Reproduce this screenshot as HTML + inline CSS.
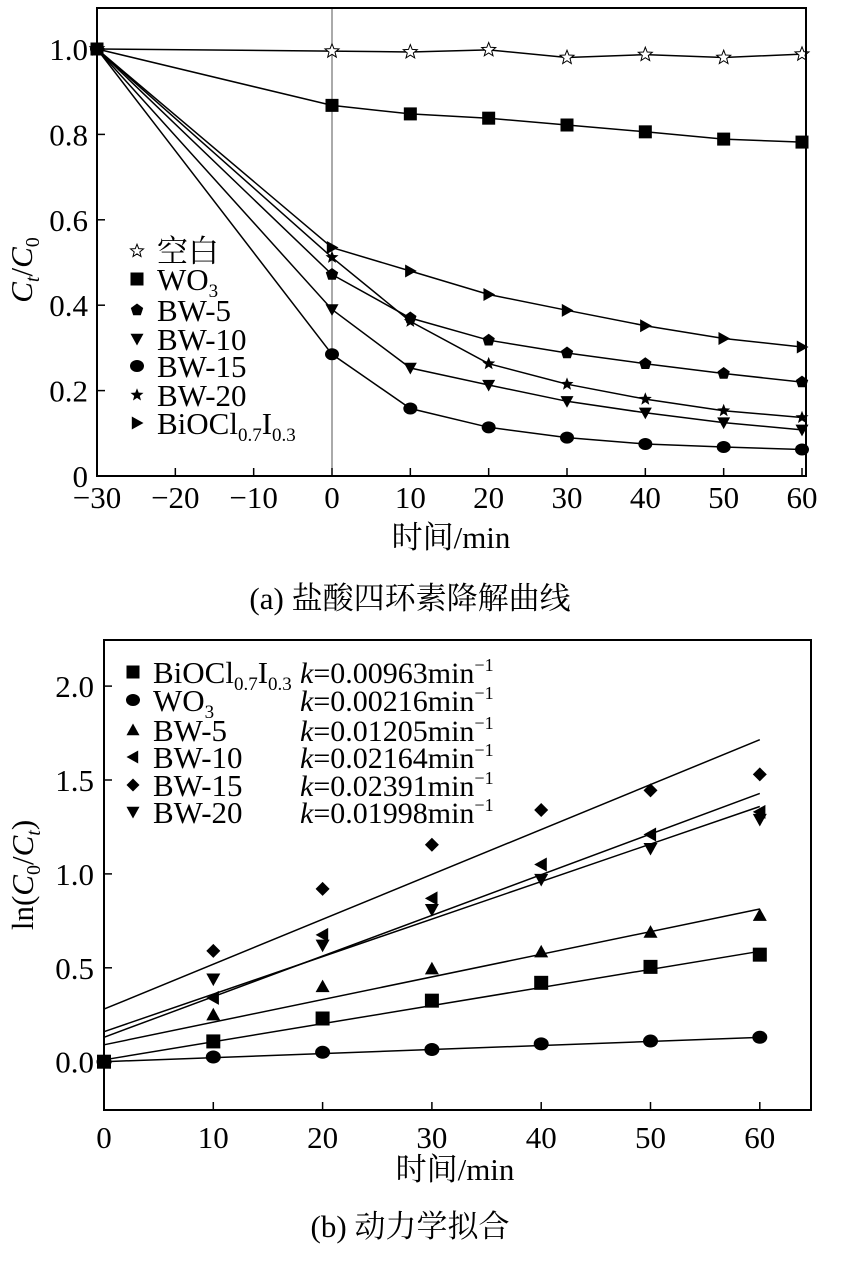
<!DOCTYPE html>
<html><head><meta charset="utf-8">
<style>
body{margin:0;background:#fff;}
svg{display:block;font-family:"Liberation Serif","Noto Serif CJK SC","Noto Sans CJK SC",serif;}
</style></head>
<body>
<svg id="s" width="843" height="1265" viewBox="0 0 843 1265"></svg>
<script>
// ---- Chart (a) data ----
const aTimes = [-30, 0, 10, 20, 30, 40, 50, 60];
const aBlank = [1.0, 0.995, 0.993, 0.998, 0.98, 0.987, 0.98, 0.988];
const aWO3   = [1.0, 0.868, 0.848, 0.838, 0.822, 0.806, 0.789, 0.782];
const aBW5   = [1.0, 0.472, 0.37, 0.318, 0.288, 0.263, 0.240, 0.220];
const aBW10  = [1.0, 0.39, 0.253, 0.213, 0.175, 0.148, 0.125, 0.108];
const aBW15  = [1.0, 0.285, 0.158, 0.114, 0.090, 0.075, 0.068, 0.062];
const aBW20  = [1.0, 0.512, 0.362, 0.263, 0.215, 0.180, 0.153, 0.137];
const aBiOCl = [1.0, 0.535, 0.48, 0.425, 0.388, 0.352, 0.322, 0.302];
const aXTicks = [-30, -20, -10, 0, 10, 20, 30, 40, 50, 60];
const aYTicks = [0, 0.2, 0.4, 0.6, 0.8, 1.0];
const aYLabels = ["0", "0.2", "0.4", "0.6", "0.8", "1.0"];
// ---- Chart (b) data ----
const bTimes = [0, 10, 20, 30, 40, 50, 60];
const bBiOCl = [0, 0.108, 0.23, 0.325, 0.42, 0.505, 0.57];
const bWO3   = [0, 0.025, 0.05, 0.065, 0.095, 0.11, 0.13];
const bBW5   = [0, 0.25, 0.40, 0.495, 0.585, 0.69, 0.78];
const bBW10  = [0, 0.34, 0.675, 0.87, 1.05, 1.21, 1.33];
const bBW15  = [0, 0.59, 0.92, 1.155, 1.34, 1.445, 1.53];
const bBW20  = [0, 0.44, 0.62, 0.81, 0.97, 1.135, 1.29];
const bSlopes = [0.00963, 0.00216, 0.01205, 0.02164, 0.02391, 0.01998];
const bIntercepts = [0.01, 0.0, 0.09, 0.13, 0.28, 0.16];
const bKLabels = ["0.00963", "0.00216", "0.01205", "0.02164", "0.02391", "0.01998"];
const bXTicks = [0, 10, 20, 30, 40, 50, 60];
const bYTicks = [0, 0.5, 1.0, 1.5, 2.0];
const bYLabels = ["0.0", "0.5", "1.0", "1.5", "2.0"];

const FS = 31;
const NS = "http://www.w3.org/2000/svg";
const svg = document.getElementById('s');
function mk(tag, attrs, parent, text){
  const e = document.createElementNS(NS, tag);
  for (const k in attrs) e.setAttribute(k, attrs[k]);
  if (text !== undefined) e.textContent = text;
  (parent || svg).appendChild(e);
  return e;
}
function marker(type, x, y, g, s){
  s = s || 7;
  let e;
  if (type === 'square') e = mk('rect', {x:x-s, y:y-s, width:2*s, height:2*s, fill:'#000'}, g);
  else if (type === 'circle') e = mk('ellipse', {cx:x, cy:y, rx:s+0.5, ry:s-0.5, fill:'#000'}, g);
  else if (type === 'pent' || type === 'star' || type === 'ostar') {
    let pts = [];
    const n = type === 'pent' ? 5 : 10;
    for (let i = 0; i < n; i++){
      const a = -Math.PI/2 + i*2*Math.PI/n;
      const r = (type === 'pent') ? s : (i%2 ? s*0.45 : s*1.05);
      pts.push((x + r*Math.cos(a)).toFixed(1) + ',' + (y + r*Math.sin(a)).toFixed(1));
    }
    e = mk('polygon', {points:pts.join(' '), fill: type === 'ostar' ? '#fff' : '#000', stroke:'#000', 'stroke-width': type === 'ostar' ? 1 : 0}, g);
  }
  else if (type === 'down') e = mk('polygon', {points:`${x-s},${y-s*0.8} ${x+s},${y-s*0.8} ${x},${y+s}`, fill:'#000'}, g);
  else if (type === 'up') e = mk('polygon', {points:`${x-s},${y+s*0.8} ${x+s},${y+s*0.8} ${x},${y-s}`, fill:'#000'}, g);
  else if (type === 'right') e = mk('polygon', {points:`${x-s*0.8},${y-s} ${x-s*0.8},${y+s} ${x+s},${y}`, fill:'#000'}, g);
  else if (type === 'left') e = mk('polygon', {points:`${x+s*0.8},${y-s} ${x+s*0.8},${y+s} ${x-s},${y}`, fill:'#000'}, g);
  else if (type === 'diamond') e = mk('polygon', {points:`${x},${y-s} ${x+s},${y} ${x},${y+s} ${x-s},${y}`, fill:'#000'}, g);
  return e;
}

// ===== Chart (a) =====
const aL=97, aR=806, aT=8, aB=476;
const ax = v => aL + (v + 30) * (aR - 4 - aL) / 90;
const ay = v => 476 - v * 427;
const ga = mk('g', {});


mk('line', {x1:ax(0), y1:aT, x2:ax(0), y2:aB, stroke:'#555', 'stroke-width':1}, ga);
aXTicks.forEach(t => {
  mk('line', {x1:ax(t), y1:aB, x2:ax(t), y2:aB-8, stroke:'#000', 'stroke-width':1.5}, ga);
  const lbl = mk('text', {x:ax(t), y:508, 'font-size':FS, 'text-anchor':'middle'}, ga, t < 0 ? '\u2212' + (-t) : String(t));
  
  
});
aYTicks.forEach((t, i) => {
  mk('line', {x1:aL, y1:ay(t), x2:aL+8, y2:ay(t), stroke:'#000', 'stroke-width':1.5}, ga);
  const lbl = mk('text', {x:88, y:ay(t)+11, 'font-size':FS, 'text-anchor':'end'}, ga, aYLabels[i]);
  
  
});
const aSeries = [
  ['blank', aBlank, 'ostar'], ['wo3', aWO3, 'square'], ['bw-5', aBW5, 'pent'],
  ['bw-10', aBW10, 'down'], ['bw-15', aBW15, 'circle'], ['bw-20', aBW20, 'star'], ['biocl', aBiOCl, 'right']
];
aSeries.forEach(([name, vals, m]) => {
  const g = mk('g', {}, ga);
  
  
  mk('polyline', {points: vals.map((v,i)=>ax(aTimes[i]).toFixed(1)+','+ay(v).toFixed(1)).join(' '), fill:'none', stroke:'#000', 'stroke-width':1.5}, g);
  vals.forEach((v,i) => marker(m, ax(aTimes[i]), ay(v), g, m==='ostar'?7:6.5));
});
mk('rect', {x:aL, y:aT, width:aR-aL, height:aB-aT, fill:'none', stroke:'#000', 'stroke-width':2}, ga);
const la = mk('g', {}, ga);


const aLegY = [251, 279, 310, 339, 366, 395, 423];
const aLegM = ['ostar','square','pent','down','circle','star','right'];
const aLegT = ['空白','WO<tspan font-size="19" dy="7">3</tspan>','BW-5','BW-10','BW-15','BW-20','BiOCl<tspan font-size="19" dy="7">0.7</tspan><tspan dy="-7">I</tspan><tspan font-size="19" dy="7">0.3</tspan>'];
aLegY.forEach((y,i) => {
  marker(aLegM[i], 137, y, la, 6.5);
  const t = mk('text', {x:157, y:y+11, 'font-size': FS}, la);
  t.innerHTML = aLegT[i];
  
  
});
const aYT = mk('text', {transform:'translate(32,270) rotate(-90)', 'font-size':FS, 'text-anchor':'middle', 'font-style':'italic'}, ga);
aYT.innerHTML = 'C<tspan font-size="20" dy="7">t</tspan><tspan dy="-7" font-style="normal">/</tspan>C<tspan font-size="20" dy="7" font-style="normal">0</tspan>';


const aXT = mk('text', {x:451, y:548, 'font-size':FS, 'text-anchor':'middle'}, ga, '时间/min');


const capA = mk('text', {x:410, y:609, 'font-size':FS, 'text-anchor':'middle'}, svg, '(a) 盐酸四环素降解曲线');



// ===== Chart (b) =====
const bL=104, bR=811, bT=640, bB=1110;
const bx = v => bL + v * 10.93;
const by = v => 1061.7 - v * 187.8;
const gb = mk('g', {});


bXTicks.forEach(t => {
  mk('line', {x1:bx(t), y1:bB, x2:bx(t), y2:bB-8, stroke:'#000', 'stroke-width':1.5}, gb);
  const lbl = mk('text', {x:bx(t), y:1148, 'font-size':FS, 'text-anchor':'middle'}, gb, String(t));
  
  
});
bYTicks.forEach((t,i) => {
  mk('line', {x1:bL, y1:by(t), x2:bL+8, y2:by(t), stroke:'#000', 'stroke-width':1.5}, gb);
  const lbl = mk('text', {x:94, y:by(t)+11, 'font-size':FS, 'text-anchor':'end'}, gb, bYLabels[i]);
  
  
});
const bSeries = [
  ['biocl', bBiOCl, 'square'], ['wo3', bWO3, 'circle'], ['bw-5', bBW5, 'up'],
  ['bw-10', bBW10, 'left'], ['bw-15', bBW15, 'diamond'], ['bw-20', bBW20, 'down']
];
bSeries.forEach(([name, vals, m], si) => {
  const g = mk('g', {}, gb);
  
  
  const x0 = bTimes[0], x1 = bTimes[bTimes.length-1];
  const fit = mk('line', {x1:bx(x0), y1:by(bIntercepts[si] + bSlopes[si]*x0), x2:bx(x1), y2:by(bIntercepts[si] + bSlopes[si]*x1), stroke:'#000', 'stroke-width':1.5}, g);
  
  
  vals.forEach((v,i) => marker(m, bx(bTimes[i]), by(v), g, 7));
});
mk('rect', {x:bL, y:bT, width:bR-bL, height:bB-bT, fill:'none', stroke:'#000', 'stroke-width':2}, gb);
const lb = mk('g', {}, gb);


const bLegY = [672, 700, 730, 757, 785, 812];
const bLegM = ['square','circle','up','left','diamond','down'];
const bLegT = ['BiOCl<tspan font-size="19" dy="7">0.7</tspan><tspan dy="-7">I</tspan><tspan font-size="19" dy="7">0.3</tspan>','WO<tspan font-size="19" dy="7">3</tspan>','BW-5','BW-10','BW-15','BW-20'];
bLegY.forEach((y,i) => {
  marker(bLegM[i], 133, y, lb, 6.5);
  const t = mk('text', {x:153, y:y+11, 'font-size':FS}, lb);
  t.innerHTML = bLegT[i];
  
  
  const k = mk('text', {x:300, y:y+11, 'font-size':30}, lb);
  k.innerHTML = '<tspan font-style="italic">k</tspan>=' + bKLabels[i] + 'min<tspan font-size="18" dy="-12">\u22121</tspan>';
  
  
});
const bYT = mk('text', {transform:'translate(33,875) rotate(-90)', 'font-size':FS, 'text-anchor':'middle'}, gb);
bYT.innerHTML = 'ln(<tspan font-style="italic">C</tspan><tspan font-size="20" dy="7">0</tspan><tspan dy="-7">/</tspan><tspan font-style="italic">C</tspan><tspan font-size="20" dy="7" font-style="italic">t</tspan><tspan dy="-7">)</tspan>';


const bXT = mk('text', {x:455, y:1180, 'font-size':FS, 'text-anchor':'middle'}, gb, '时间/min');


const capB = mk('text', {x:410, y:1237, 'font-size':FS, 'text-anchor':'middle'}, svg, '(b) 动力学拟合');


</script>
</body></html>
